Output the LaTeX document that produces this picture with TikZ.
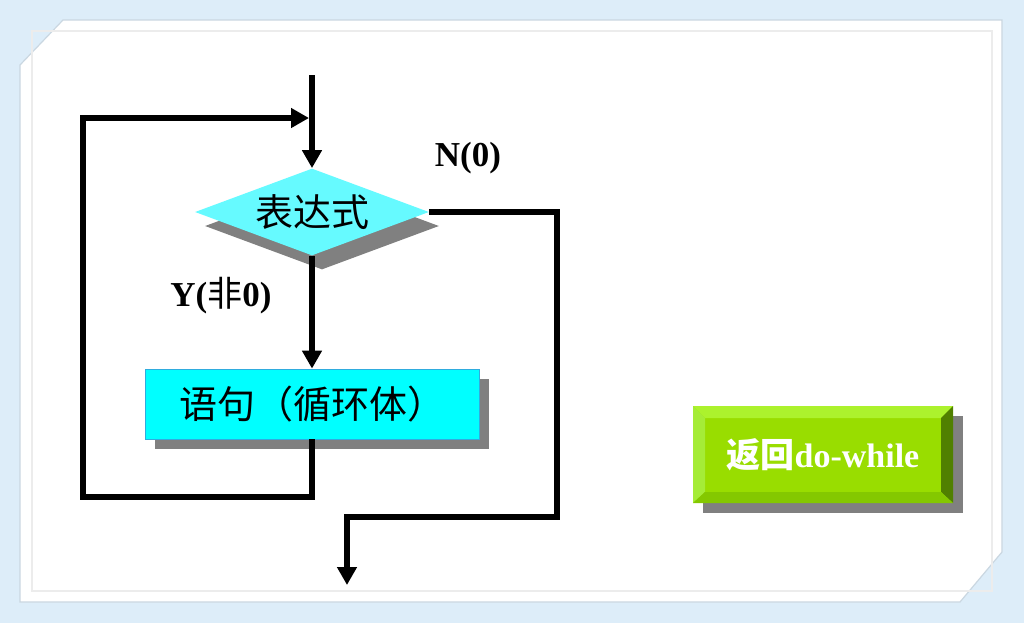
\documentclass[tikz,border=0pt]{standalone}
\usepackage{fontspec}
\setmainfont{Liberation Serif}
\newfontfamily\cjk{Noto Sans CJK SC}
\usetikzlibrary{arrows.meta,shapes.geometric,shadows}
\definecolor{framebg}{RGB}{221,237,249}
\definecolor{diacyan}{RGB}{102,250,255}
\definecolor{boxcyan}{RGB}{0,255,255}
\definecolor{shadowgray}{RGB}{128,128,128}
\definecolor{btnface}{RGB}{153,221,0}
\definecolor{btntop}{RGB}{172,242,45}
\definecolor{btnleft}{RGB}{165,236,55}
\definecolor{btnright}{RGB}{80,128,0}
\definecolor{btnbottom}{RGB}{132,200,0}
\begin{document}
\begin{tikzpicture}[x=0.5pt,y=-0.5pt,
  flow/.style={line width=3.3pt,-{Triangle[length=9pt,width=9.5pt]}},
  shade/.style={drop shadow={shadow xshift=5pt,shadow yshift=-7pt,fill=shadowgray,opacity=1}},
  lab/.style={font=\bfseries\fontsize{17.5}{20}\selectfont,inner sep=0pt}]
  \useasboundingbox (0,0) rectangle (1024,623);
  \fill[framebg] (0,0) rectangle (1024,623);
  \fill[white,draw=framebg!80!gray,line width=0.6pt] (63,20) -- (1002,20) -- (1002,552) -- (960,602) -- (20,602) -- (20,65) -- cycle;
  \draw[gray!15,line width=0.6pt] (32,31) rectangle (992,591);

  \node[diamond,shape aspect=2.7,fill=diacyan,inner sep=0pt,minimum width=117pt,minimum height=43.5pt,shade] (expr) at (312,212)
    {\cjk\fontsize{19}{19}\selectfont\raisebox{-0.38em}[0pt][0pt]{表达式}};
  \node[rectangle,fill=boxcyan,draw=cyan!80!gray,line width=0.4pt,inner sep=0pt,minimum width=167pt,minimum height=35pt,
    drop shadow={shadow xshift=5pt,shadow yshift=-5pt,fill=shadowgray,opacity=1}] (body) at (312,404)
    {\cjk\fontsize{19}{19}\selectfont 语句（循环体）};

  \node[lab] (nlab) at (468,158) {N(0)};
  \node[lab] (ylab) at (221,296) {Y(\cjk\mdseries 非\/\bfseries\rmfamily 0)};

  \coordinate (in) at (312,75);
  \coordinate (lpa) at (83,497);
  \coordinate (lpb) at (83,118);
  \coordinate (join) at (309,118);
  \coordinate (nb) at (557,517);
  \coordinate (out) at (347,585);
  \draw[flow] (in) -- (expr.north);
  \draw[flow] (expr.south) -- (body.north);
  \draw[flow] (body.south) |- (lpa) -- (lpb) -- (join);
  \draw[flow] (expr.east) -| (nb) -| (out);

  % button
  \fill[shadowgray] (703,416) rectangle (963,513);
  \node[fill=btnface,minimum width=130pt,minimum height=48.5pt,inner sep=0pt] (btn) at (823,454.5) {};
  \fill[btntop] (693,406) -- (953,406) -- (941,418) -- (705,418) -- cycle;
  \fill[btnleft] (693,406) -- (705,418) -- (705,492) -- (693,503) -- cycle;
  \fill[btnright] (953,406) -- (953,503) -- (941,492) -- (941,418) -- cycle;
  \fill[btnbottom] (693,503) -- (953,503) -- (941,492) -- (705,492) -- cycle;
  \node[text=white,font=\bfseries\fontsize{17}{20}\selectfont,inner sep=0pt] (btntext) at (btn.center)
    {{\cjk 返回}do-while};
\end{tikzpicture}
\end{document}
